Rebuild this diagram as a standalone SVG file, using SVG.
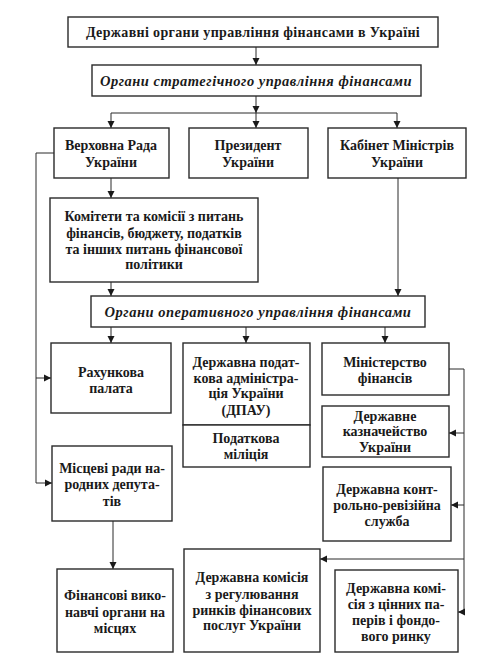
<svg xmlns="http://www.w3.org/2000/svg" width="497" height="664" viewBox="0 0 497 664">
<style>
.b{fill:#fff;stroke:#2a2a2a;stroke-width:1.4}
.t{font-family:"Liberation Serif","DejaVu Serif",serif;font-size:14px;letter-spacing:0px;font-weight:bold;fill:#1a1a1a;text-anchor:middle}
.h{letter-spacing:0.35px}
.i{font-style:italic;font-size:14.5px;letter-spacing:0.5px}
.c{fill:none;stroke:#2a2a2a;stroke-width:1}
</style>
<defs>
<marker id="a" markerWidth="8" markerHeight="8" refX="7" refY="4" orient="auto" markerUnits="userSpaceOnUse">
<path d="M0,0.5 L7,4 L0,7.5 Z" fill="#1a1a1a"/>
</marker>
</defs>
<rect width="497" height="664" fill="#fff"/>
<g id="connectors">
<path class="c" d="M256,47 V65" marker-end="url(#a)"/>
<path class="c" d="M256,96 V113" marker-end="url(#a)"/>
<path class="c" d="M111,113 H397"/>
<path class="c" d="M111,113 V128" marker-end="url(#a)"/>
<path class="c" d="M256,113 V128" marker-end="url(#a)"/>
<path class="c" d="M397,113 V128" marker-end="url(#a)"/>
<path class="c" d="M111,178 V198" marker-end="url(#a)"/>
<path class="c" d="M54,153 H36 V483 H52" marker-end="url(#a)"/>
<path class="c" d="M36,378 H51" marker-end="url(#a)"/>
<path class="c" d="M111,282 V296" marker-end="url(#a)"/>
<path class="c" d="M398,178 V296" marker-end="url(#a)"/>
<path class="c" d="M111,327 V343" marker-end="url(#a)"/>
<path class="c" d="M246,327 V343" marker-end="url(#a)"/>
<path class="c" d="M385,327 V343" marker-end="url(#a)"/>
<path class="c" d="M449,369 H464 V612 H458" marker-end="url(#a)"/>
<path class="c" d="M464,433 H449" marker-end="url(#a)"/>
<path class="c" d="M464,505 H451" marker-end="url(#a)"/>
<path class="c" d="M464,559 H320" marker-end="url(#a)"/>
<path class="c" d="M113,521 V569" marker-end="url(#a)"/>
</g>
<g id="n-top"><rect class="b" x="68" y="17" width="370" height="30"/><text class="t h" x="253" y="37">Державні органи управління фінансами в Україні</text></g>
<g id="n-strat"><rect class="b" x="92" y="65" width="329" height="31"/><text class="t i" x="256" y="86">Органи стратегічного управління фінансами</text></g>
<g id="n-vr"><rect class="b" x="54" y="128" width="115" height="50"/><text class="t" x="111" y="150">Верховна Рада</text><text class="t" x="111" y="167">України</text></g>
<g id="n-pres"><rect class="b" x="189" y="128" width="119" height="50"/><text class="t" x="248" y="150">Президент</text><text class="t" x="248" y="167">України</text></g>
<g id="n-kmu"><rect class="b" x="328" y="128" width="138" height="50"/><text class="t" x="397" y="150">Кабінет Міністрів</text><text class="t" x="397" y="167">України</text></g>
<g id="n-kom"><rect class="b" x="50" y="198" width="208" height="84"/><text class="t" x="154" y="221">Комітети та комісії з питань</text><text class="t" x="154" y="238">фінансів, бюджету, податків</text><text class="t" x="154" y="254">та інших питань фінансової</text><text class="t" x="154" y="269">політики</text></g>
<g id="n-oper"><rect class="b" x="91" y="296" width="334" height="31"/><text class="t i" x="258" y="317">Органи оперативного управління фінансами</text></g>
<g id="n-rp"><rect class="b" x="51" y="343" width="120" height="70"/><text class="t" x="111" y="377">Рахункова</text><text class="t" x="111" y="393">палата</text></g>
<g id="n-dpau"><rect class="b" x="183" y="343" width="127" height="82"/><text class="t" x="246" y="367">Державна подат-</text><text class="t" x="246" y="383">кова адміністра-</text><text class="t" x="246" y="398">ція України</text><text class="t" x="246" y="415">(ДПАУ)</text></g>
<g id="n-pm"><rect class="b" x="183" y="425" width="127" height="42"/><text class="t" x="246" y="443">Податкова</text><text class="t" x="246" y="459">міліція</text></g>
<g id="n-mf"><rect class="b" x="322" y="343" width="127" height="52"/><text class="t" x="385" y="367">Міністерство</text><text class="t" x="385" y="383">фінансів</text></g>
<g id="n-dku"><rect class="b" x="322" y="406" width="127" height="51"/><text class="t" x="385" y="421">Державне</text><text class="t" x="385" y="436">казначейство</text><text class="t" x="385" y="452">України</text></g>
<g id="n-krs"><rect class="b" x="323" y="467" width="128" height="74"/><text class="t" x="387" y="494">Державна конт-</text><text class="t" x="387" y="510">рольно-ревізійна</text><text class="t" x="387" y="526">служба</text></g>
<g id="n-mr"><rect class="b" x="52" y="446" width="120" height="75"/><text class="t" x="112" y="473">Місцеві ради на-</text><text class="t" x="112" y="489">родних депута-</text><text class="t" x="112" y="506">тів</text></g>
<g id="n-fvo"><rect class="b" x="57" y="569" width="116" height="83"/><text class="t" x="115" y="600">Фінансові вико-</text><text class="t" x="115" y="617">навчі органи на</text><text class="t" x="115" y="633">місцях</text></g>
<g id="n-dkr"><rect class="b" x="184" y="549" width="136" height="103"/><text class="t" x="252" y="582">Державна комісія</text><text class="t" x="252" y="599">з регулювання</text><text class="t" x="252" y="615">ринків фінансових</text><text class="t" x="252" y="630">послуг України</text></g>
<g id="n-dkcp"><rect class="b" x="335" y="570" width="123" height="82"/><text class="t" x="396" y="593">Державна комі-</text><text class="t" x="396" y="609">сія з цінних па-</text><text class="t" x="396" y="625">перів і фондо-</text><text class="t" x="396" y="641">вого ринку</text></g>
</svg>
